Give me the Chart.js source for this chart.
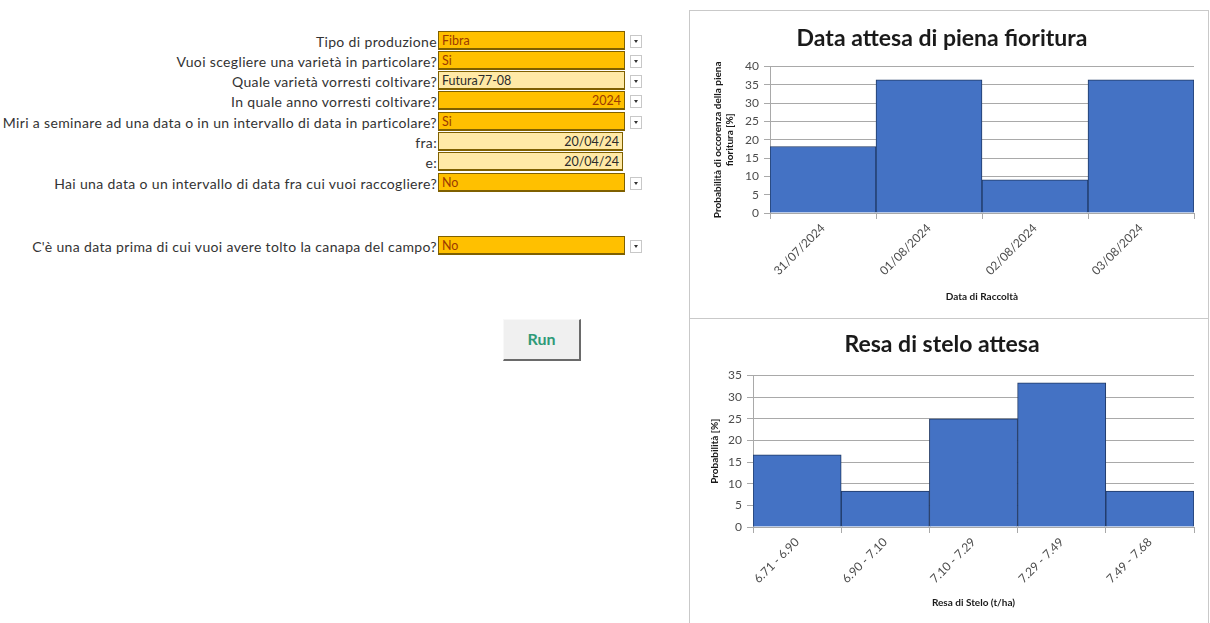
<!DOCTYPE html>
<html lang="it">
<head>
<meta charset="utf-8">
<title>Pianificazione canapa</title>
<script src="https://cdn.jsdelivr.net/npm/chart.js@4.4.1/dist/chart.umd.min.js"></script>
<style>
  html, body { margin: 0; padding: 0; background: #fff; }
  body { width: 1210px; height: 623px; position: relative; overflow: hidden; font-family: Lato, "Open Sans", sans-serif; }
  .lbl { position: absolute; right: 773px; height: 20px; line-height: 20px; font-size: 14px; letter-spacing: 0.35px; color: #333; white-space: nowrap; text-align: right; }
  .cell { position: absolute; left: 438px; width: 187px; height: 19px; line-height: 18px; font-size: 12.5px; box-sizing: border-box; padding: 0 3px; white-space: nowrap;
          border: 1px solid #7f6000; border-bottom-width: 2px; }
  .orange { background: #ffc000; color: #9c3b00; }
  .light { background: #ffe9a6; color: #2b2b2b; }
  .r { text-align: right; }
  .dd { position: absolute; left: 630px; width: 12px; height: 13px; box-sizing: border-box; border: 1px solid #c8c8c8; background: #fff; }
  .dd::after { content: ""; position: absolute; left: 3px; top: 4px; border-left: 2.5px solid transparent; border-right: 2.5px solid transparent; border-top: 3px solid #333; }
  .btn { position: absolute; left: 503px; top: 319px; width: 78px; height: 42px; box-sizing: border-box; background: #f0f0f0;
         border-right: 2px solid #6a6a6a; border-bottom: 2px solid #6a6a6a; border-top: 1px solid #f8f8f8; border-left: 1px solid #f8f8f8;
         color: #2f9a78; font-weight: bold; font-size: 16px; text-align: center; line-height: 38px; }
  .box { position: absolute; left: 689px; width: 520px; border: 1px solid #c9c9c9; box-sizing: border-box; background: #fff; }
  canvas { display: block; }
</style>
</head>
<body>

<div class="lbl" style="top:32px">Tipo di produzione</div>
<div class="cell orange" style="top:31px">Fibra</div><div class="dd" style="top:35px"></div>

<div class="lbl" style="top:52px">Vuoi scegliere una varietà in particolare?</div>
<div class="cell orange" style="top:51px">Si</div><div class="dd" style="top:55px"></div>

<div class="lbl" style="top:72px">Quale varietà vorresti coltivare?</div>
<div class="cell light" style="top:71px">Futura77-08</div><div class="dd" style="top:75px"></div>

<div class="lbl" style="top:92px">In quale anno vorresti coltivare?</div>
<div class="cell orange r" style="top:91px">2024</div><div class="dd" style="top:95px"></div>

<div class="lbl" style="top:113px">Miri a seminare ad una data o in un intervallo di data in particolare?</div>
<div class="cell orange" style="top:112px">Si</div><div class="dd" style="top:116px"></div>

<div class="lbl" style="top:133px">fra:</div>
<div class="cell light r" style="top:132px; width:185px">20/04/24</div>

<div class="lbl" style="top:153px">e:</div>
<div class="cell light r" style="top:152px; width:185px">20/04/24</div>

<div class="lbl" style="top:174px">Hai una data o un intervallo di data fra cui vuoi raccogliere?</div>
<div class="cell orange" style="top:173px">No</div><div class="dd" style="top:177px"></div>

<div class="lbl" style="top:237px">C'è una data prima di cui vuoi avere tolto la canapa del campo?</div>
<div class="cell orange" style="top:236px">No</div><div class="dd" style="top:240px"></div>

<div class="btn">Run</div>

<div class="box" style="top:10px; height:309px;"><canvas id="fioritura" width="518" height="307"></canvas></div>
<div class="box" style="top:318px; height:306px;"><canvas id="resa" width="518" height="304"></canvas></div>

<script>
// Probabilità di piena fioritura per data di raccolta [%]
const dateRaccolta = ["31/07/2024", "01/08/2024", "02/08/2024", "03/08/2024"];
const probFioritura = [18.18, 36.36, 9.09, 36.36];

// Probabilità per classe di resa di stelo [%]
const classiResa = ["6.71 - 6.90", "6.90 - 7.10", "7.10 - 7.29", "7.29 - 7.49", "7.49 - 7.68"];
const probResa = [16.67, 8.33, 25.0, 33.33, 8.33];

const FONT = "Lato, 'Open Sans', sans-serif";
const BAR_FILL = "#4472c4";
const BAR_EDGE = "#1f3864";
const GRID = "#a9a9a9";
const TICK_TEXT = "#4d4d4d";

function histogram(canvasId, cfg) {
  return new Chart(document.getElementById(canvasId), {
    type: "bar",
    data: {
      labels: cfg.labels,
      datasets: [{
        data: cfg.values,
        backgroundColor: BAR_FILL,
        borderColor: BAR_EDGE,
        borderWidth: 1,
        barPercentage: 1.0,
        categoryPercentage: 1.0
      }]
    },
    options: {
      responsive: false,
      animation: false,
      devicePixelRatio: 1,
      layout: { padding: { left: 0, right: 14, top: 0, bottom: 0 } },
      plugins: {
        legend: { display: false },
        tooltip: { enabled: false },
        title: {
          display: true,
          text: cfg.title,
          color: "#1a1a1a",
          font: { family: FONT, size: 23, weight: "bold", lineHeight: 1.2 },
          padding: cfg.titlePad
        }
      },
      scales: {
        x: {
          grid: { display: true, drawOnChartArea: false, drawTicks: true, tickLength: 6, color: GRID, offset: true },
          border: { display: true, color: GRID },
          ticks: { minRotation: 45, maxRotation: 45, color: TICK_TEXT, font: { family: FONT, size: 12 }, padding: 2 },
          title: { display: true, text: cfg.xTitle, color: "#1a1a1a", font: { family: FONT, size: 10, weight: "bold", lineHeight: 1.2 }, padding: { top: 0, bottom: cfg.xTitlePad } },
          afterFit: s => { s.height = cfg.xHeight; }
        },
        y: {
          min: 0,
          max: cfg.yMax,
          ticks: { stepSize: 5, color: TICK_TEXT, font: { family: FONT, size: 12 }, padding: 5 },
          grid: { color: GRID, tickLength: 6 },
          border: { display: true, color: GRID },
          title: { display: true, text: cfg.yTitle, color: "#1a1a1a", font: { family: FONT, size: 10, weight: "bold", lineHeight: 1.2 }, padding: { top: cfg.yTitlePad, bottom: 0 } },
          afterFit: s => { s.width = cfg.yWidth; }
        }
      }
    }
  });
}

histogram("fioritura", {
  labels: dateRaccolta,
  values: probFioritura,
  title: "Data attesa di piena fioritura",
  titlePad: { top: 14, bottom: 14 },
  xTitle: "Data di Raccoltà",
  xTitlePad: 15,
  xHeight: 105,
  yTitle: ["Probabilità di occorenza della piena", "fioritura [%]"],
  yTitlePad: 22,
  yWidth: 80,
  yMax: 40
});

histogram("resa", {
  labels: classiResa,
  values: probResa,
  title: "Resa di stelo attesa",
  titlePad: { top: 12, bottom: 17 },
  xTitle: "Resa di Stelo (t/ha)",
  xTitlePad: 14,
  xHeight: 96,
  yTitle: "Probabilità [%]",
  yTitlePad: 19,
  yWidth: 63,
  yMax: 35
});
</script>
</body>
</html>
